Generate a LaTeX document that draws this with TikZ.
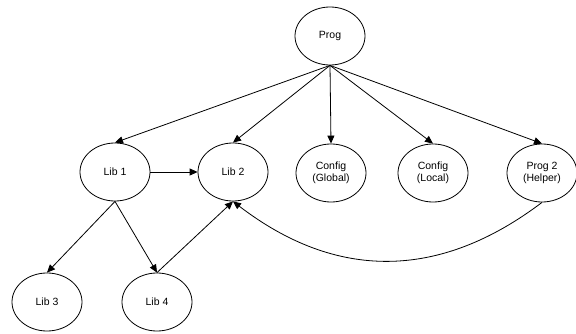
\documentclass[tikz,border=0pt]{standalone}
\usepackage{fontspec}
\setmainfont{Liberation Sans}
\usetikzlibrary{shapes.geometric,arrows.meta}

\tikzset{
    modnode/.style={ellipse, draw, line width=0.8pt, minimum width=70pt, minimum height=58pt, inner sep=0pt, align=center, font=\fontsize{10.5}{12}\selectfont},
    dep/.style={line width=0.8pt, -{Triangle[length=8pt,width=7pt]}}
}

\begin{document}
\begin{tikzpicture}[x=1pt,y=1pt]
\useasboundingbox (0,0) rectangle (576,333);
\node[modnode] (prog) at (330,297) {Prog};
\node[modnode] (lib1) at (115,161) {Lib 1};
\node[modnode] (lib2) at (233,161) {Lib 2};
\node[modnode] (cfgglobal) at (331,160) {Config\\(Global)};
\node[modnode] (cfglocal) at (433,160) {Config\\(Local)};
\node[modnode] (prog2) at (542,160) {Prog 2\\(Helper)};
\node[modnode] (lib3) at (47,31) {Lib 3};
\node[modnode] (lib4) at (157,31) {Lib 4};

\foreach \t in {lib1,lib2,cfgglobal,cfglocal,prog2}
    \draw[dep] (prog.south) -- (\t.north);

\draw[dep] (lib1.east) -- (lib2.west);
\draw[dep] (lib1.south) -- (lib3.north);
\draw[dep] (lib1.south) -- (lib4.north);
\draw[dep] (lib4.north) -- (lib2.south);
\draw[dep] (prog2.south) .. controls +(-103,-78) and +(103,-79) .. (lib2.south);
\end{tikzpicture}
\end{document}
